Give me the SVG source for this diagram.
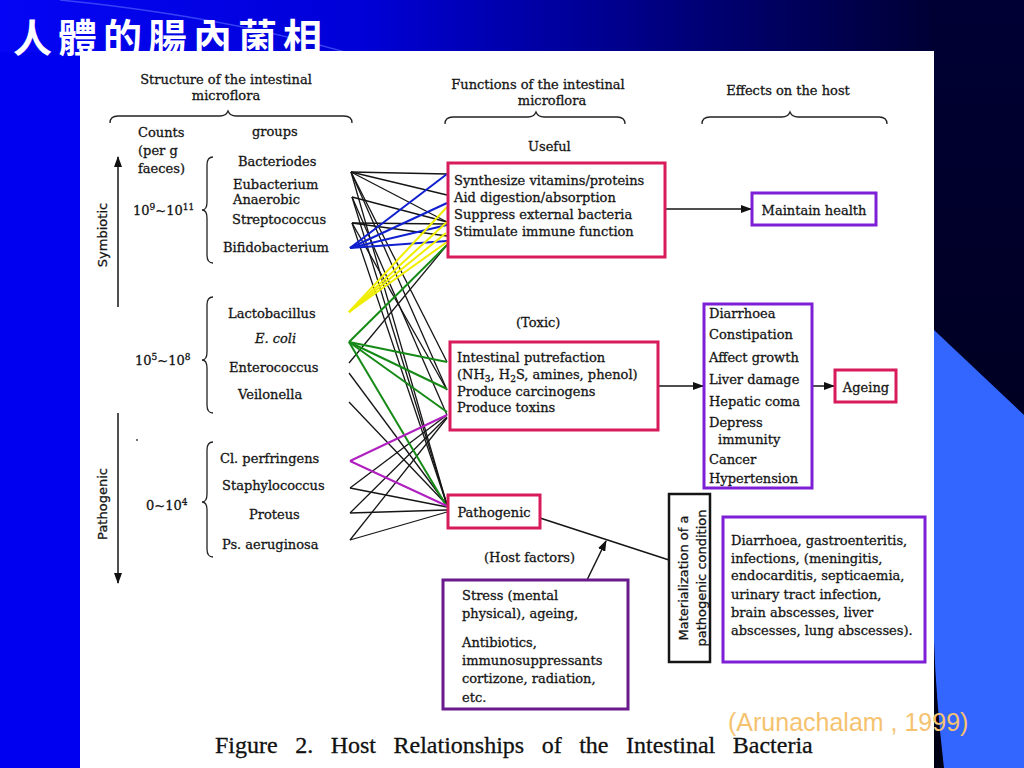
<svg xmlns="http://www.w3.org/2000/svg" width="1024" height="768" viewBox="0 0 1024 768">
<defs>
<linearGradient id="topg" x1="0" y1="0" x2="1" y2="0">
<stop offset="0" stop-color="#0505f5"/>
<stop offset="0.35" stop-color="#0000d8"/>
<stop offset="0.7" stop-color="#000070"/>
<stop offset="0.9" stop-color="#000038"/>
<stop offset="1" stop-color="#000022"/>
</linearGradient>
<linearGradient id="rg" x1="0" y1="0" x2="0" y2="1">
<stop offset="0" stop-color="#000034"/>
<stop offset="1" stop-color="#000014"/>
</linearGradient>
<marker id="ah" markerUnits="userSpaceOnUse" markerWidth="11" markerHeight="8" refX="10" refY="4" orient="auto">
<path d="M0,0 L11,4 L0,8 Z" fill="#111"/>
</marker>
<style>
.t{font-family:"DejaVu Serif","Liberation Serif",serif;font-size:13px;fill:#151515;stroke:#151515;stroke-width:0.3}
.s{font-family:"DejaVu Sans","Liberation Sans",sans-serif;font-size:13px;fill:#151515;stroke:#151515;stroke-width:0.3}
.sup{font-size:9px}
.br{fill:none;stroke:#222;stroke-width:1.3}
.bx{fill:#fff;stroke-width:3}
.red{stroke:#d81b5c}
.pur{stroke:#7c1fd6}
.dpur{stroke:#6a1a8c}
.blk{stroke:#151515;stroke-width:2.5}
.ln{fill:none;stroke:#151515;stroke-width:1.3}
.bl{stroke:#1020d0;stroke-width:2}
.ye{stroke:#f0ee00;stroke-width:2}
.gr{stroke:#168a16;stroke-width:2}
.mg{stroke:#b01fc0;stroke-width:2}
.ar{fill:none;stroke:#151515;stroke-width:1.5}
</style>
</defs>

<g id="background">
<rect x="0" y="0" width="1024" height="768" fill="#0000f0"/>
<rect x="0" y="0" width="1024" height="52" fill="url(#topg)"/>
<rect x="930" y="0" width="94" height="768" fill="url(#rg)"/>
<path d="M934,330 L1024,415 L1024,768 L944,768 Q936,700 934,640 Z" fill="#3366ff"/>
<path d="M60,0 Q220,16 345,52" fill="none" stroke="#5a6cff" stroke-width="1.5" opacity="0.6"/>
</g>

<g id="title">
<text x="13" y="52" font-family="'Noto Sans CJK TC','Noto Sans CJK SC',sans-serif" font-size="39" font-weight="bold" letter-spacing="6" fill="#ffffff">人體的腸內菌相</text>
</g>

<rect id="panel" x="80" y="51" width="854" height="717" fill="#ffffff"/>

<g id="headers">
<text class="t" x="226" y="84" text-anchor="middle">Structure of the intestinal</text>
<text class="t" x="226" y="100" text-anchor="middle">microflora</text>
<path class="br" d="M110,123 Q110,116 118,116 L220,116 Q226,116 228,111 Q230,116 236,116 L344,116 Q352,116 352,123"/>
<text class="t" x="538" y="89" text-anchor="middle">Functions of the intestinal</text>
<text class="t" x="552" y="105" text-anchor="middle">microflora</text>
<path class="br" d="M445,124 Q445,117 453,117 L528,117 Q534,117 536,112 Q538,117 544,117 L617,117 Q625,117 625,124"/>
<text class="t" x="788" y="95" text-anchor="middle">Effects on the host</text>
<path class="br" d="M702,124 Q702,117 710,117 L782,117 Q788,117 790,112 Q792,117 798,117 L879,117 Q887,117 887,124"/>
<text class="t" x="138" y="137">Counts</text>
<text class="t" x="138" y="155">(per g</text>
<text class="t" x="138" y="173">faeces)</text>
<text class="t" x="252" y="136">groups</text>
<text class="t" x="528" y="151">Useful</text>
<text class="t" x="516" y="327">(Toxic)</text>
</g>

<g id="axis">
<line class="ar" x1="118" y1="307" x2="118" y2="157" marker-end="url(#ah)" stroke-width="2"/>
<line class="ar" x1="118" y1="413" x2="118" y2="583" marker-end="url(#ah)" stroke-width="2"/>
<text class="s" font-size="12.5" transform="translate(107,235) rotate(-90)" text-anchor="middle">Symbiotic</text>
<text class="s" font-size="12.5" transform="translate(107,504) rotate(-90)" text-anchor="middle">Pathogenic</text>
<circle cx="137" cy="440" r="0.9" fill="#333"/>
</g>

<g id="group-high">
<text class="t" x="133" y="215">10<tspan class="sup" dy="-5">9</tspan><tspan dy="5">~10</tspan><tspan class="sup" dy="-5">11</tspan></text>
<path class="br" d="M213,157 Q207,157 207,165 L207,202 Q207,210 202,210 Q207,210 207,218 L207,255 Q207,263 213,263"/>
<text id="bacteriodes" class="t" x="238" y="166">Bacteriodes</text>
<text id="eubacterium" class="t" x="233" y="189">Eubacterium</text>
<text class="t" x="233" y="204">Anaerobic</text>
<text id="streptococcus" class="t" x="232" y="224">Streptococcus</text>
<text id="bifidobacterium" class="t" x="223" y="252">Bifidobacterium</text>
</g>

<g id="group-mid">
<text class="t" x="135" y="365">10<tspan class="sup" dy="-5">5</tspan><tspan dy="5">~10</tspan><tspan class="sup" dy="-5">8</tspan></text>
<path class="br" d="M213,297 Q207,297 207,305 L207,352 Q207,360 202,360 Q207,360 207,368 L207,405 Q207,413 213,413"/>
<text id="lactobacillus" class="t" x="228" y="318">Lactobacillus</text>
<text id="ecoli" class="t" x="255" y="343" font-style="italic">E. coli</text>
<text id="enterococcus" class="t" x="229" y="372">Enterococcus</text>
<text id="veilonella" class="t" x="238" y="399">Veilonella</text>
</g>

<g id="group-low">
<text class="t" x="146" y="510">0~10<tspan class="sup" dy="-5">4</tspan></text>
<path class="br" d="M213,442 Q207,442 207,450 L207,494 Q207,502 202,502 Q207,502 207,510 L207,549 Q207,557 213,557"/>
<text id="perfringens" class="t" x="220" y="463">Cl. perfringens</text>
<text id="staphylococcus" class="t" x="222" y="490">Staphylococcus</text>
<text id="proteus" class="t" x="249" y="519">Proteus</text>
<text id="aeruginosa" class="t" x="222" y="549">Ps. aeruginosa</text>
</g>

<g id="connectors">
<g class="ln">
<line x1="351" y1="172" x2="447" y2="174"/>
<line x1="351" y1="172" x2="447" y2="195"/>
<line x1="351" y1="172" x2="447" y2="222"/>
<line x1="351" y1="172" x2="447" y2="362"/>
<line x1="351" y1="172" x2="447" y2="390"/>
<line x1="351" y1="172" x2="447" y2="505"/>
<line x1="352" y1="197" x2="447" y2="222"/>
<line x1="352" y1="197" x2="447" y2="415"/>
<line x1="352" y1="197" x2="447" y2="505"/>
<line x1="352" y1="223" x2="447" y2="224"/>
<line x1="352" y1="223" x2="447" y2="236"/>
<line x1="352" y1="223" x2="447" y2="390"/>
<line x1="352" y1="223" x2="447" y2="505"/>
<line x1="349" y1="363" x2="447" y2="245"/>
<line x1="349" y1="373" x2="447" y2="505"/>
<line x1="349" y1="402" x2="447" y2="505"/>
<line x1="350" y1="488" x2="447" y2="415"/>
<line x1="350" y1="488" x2="447" y2="507"/>
<line x1="350" y1="513" x2="447" y2="417"/>
<line x1="350" y1="513" x2="447" y2="510"/>
<line x1="350" y1="540" x2="447" y2="418"/>
<line x1="350" y1="540" x2="447" y2="512"/>
</g>
<g class="bl">
<line x1="350" y1="248" x2="447" y2="174"/>
<line x1="350" y1="248" x2="447" y2="203"/>
<line x1="350" y1="248" x2="447" y2="225"/>
<line x1="350" y1="248" x2="447" y2="241"/>
</g>
<g class="ye">
<line x1="349" y1="312" x2="447" y2="207"/>
<line x1="349" y1="312" x2="447" y2="222"/>
<line x1="349" y1="312" x2="446" y2="233"/>
<line x1="349" y1="312" x2="447" y2="242"/>
</g>
<g class="gr">
<line x1="349" y1="342" x2="447" y2="245"/>
<line x1="349" y1="342" x2="447" y2="362"/>
<line x1="349" y1="342" x2="447" y2="389"/>
<line x1="349" y1="342" x2="447" y2="412"/>
<line x1="349" y1="342" x2="447" y2="507"/>
</g>
<g class="mg">
<line x1="350" y1="461" x2="447" y2="415"/>
<line x1="350" y1="461" x2="447" y2="506"/>
</g>
<line class="ar" x1="665" y1="209" x2="751" y2="209" marker-end="url(#ah)"/>
<line class="ar" x1="658" y1="386" x2="703" y2="386" marker-end="url(#ah)"/>
<line class="ar" x1="812" y1="386" x2="834" y2="386" marker-end="url(#ah)"/>
<line class="ar" x1="540" y1="518" x2="669" y2="560"/>
<line class="ar" x1="587" y1="580" x2="606" y2="541" marker-end="url(#ah)"/>
</g>

<g id="useful">
<rect class="bx red" x="448" y="163" width="217" height="94"/>
<text class="t" x="454" y="185">Synthesize vitamins/proteins</text>
<text class="t" x="454" y="202">Aid digestion/absorption</text>
<text class="t" x="454" y="219">Suppress external bacteria</text>
<text class="t" x="454" y="236">Stimulate immune function</text>
</g>

<g id="maintain">
<rect class="bx pur" x="752" y="193" width="124" height="32"/>
<text class="t" x="814" y="215" text-anchor="middle">Maintain health</text>
</g>

<g id="toxic">
<rect class="bx red" x="450" y="342" width="208" height="88"/>
<text class="t" x="457" y="362">Intestinal putrefaction</text>
<text class="t" x="457" y="379">(NH<tspan class="sup" dy="3">3</tspan><tspan dy="-3">, H</tspan><tspan class="sup" dy="3">2</tspan><tspan dy="-3">S, amines, phenol)</tspan></text>
<text class="t" x="457" y="396">Produce carcinogens</text>
<text class="t" x="457" y="412">Produce toxins</text>
</g>

<g id="effects">
<rect class="bx pur" x="704" y="304" width="108" height="184"/>
<text class="t" x="709" y="318">Diarrhoea</text>
<text class="t" x="709" y="339">Constipation</text>
<text class="t" x="709" y="362">Affect growth</text>
<text class="t" x="709" y="384">Liver damage</text>
<text class="t" x="709" y="406">Hepatic coma</text>
<text class="t" x="709" y="427">Depress</text>
<text class="t" x="718" y="444">immunity</text>
<text class="t" x="709" y="464">Cancer</text>
<text class="t" x="709" y="483">Hypertension</text>
</g>

<g id="ageing">
<rect class="bx red" x="835" y="370" width="61" height="32"/>
<text class="t" x="866" y="392" text-anchor="middle">Ageing</text>
</g>

<g id="pathogenic">
<rect class="bx red" x="448" y="495" width="92" height="33"/>
<text class="t" x="494" y="517" text-anchor="middle">Pathogenic</text>
</g>

<g id="hostfactors">
<text class="t" x="484" y="562">(Host factors)</text>
<rect class="bx dpur" x="443" y="580" width="185" height="129"/>
<text class="t" x="462" y="600">Stress (mental</text>
<text class="t" x="462" y="618">physical), ageing,</text>
<text class="t" x="462" y="647">Antibiotics,</text>
<text class="t" x="462" y="665">immunosuppressants</text>
<text class="t" x="462" y="683">cortizone, radiation,</text>
<text class="t" x="462" y="702">etc.</text>
</g>

<g id="materialization">
<rect class="bx blk" x="669" y="494" width="41" height="168"/>
<text class="s" transform="translate(688,578) rotate(-90)" text-anchor="middle">Materialization of a</text>
<text class="s" transform="translate(706,578) rotate(-90)" text-anchor="middle">pathogenic condition</text>
</g>

<g id="diseases">
<rect class="bx pur" x="723" y="517" width="202" height="145"/>
<text class="t" x="731" y="545">Diarrhoea, gastroenteritis,</text>
<text class="t" x="731" y="563">infections, (meningitis,</text>
<text class="t" x="731" y="580">endocarditis, septicaemia,</text>
<text class="t" x="731" y="599">urinary tract infection,</text>
<text class="t" x="731" y="617">brain abscesses, liver</text>
<text class="t" x="731" y="635">abscesses, lung abscesses).</text>
</g>

<g id="captions">
<text x="728" y="731" font-family="'Liberation Sans',Arial,sans-serif" font-size="25" fill="#f5c36f">(Arunachalam , 1999)</text>
<text x="215" y="753" font-family="'Liberation Serif','Times New Roman',serif" font-size="24" word-spacing="11.5" fill="#111" stroke="#111" stroke-width="0.3">Figure 2. Host Relationships of the Intestinal Bacteria</text>
</g>
</svg>
